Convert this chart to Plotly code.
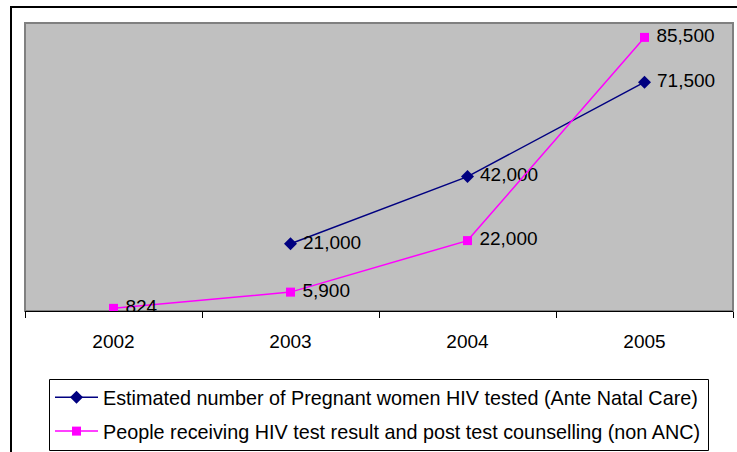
import plotly.graph_objects as go

years = ["2002", "2003", "2004", "2005"]
anc_tested = [None, 21000, 42000, 71500]
non_anc = [824, 5900, 22000, 85500]

name_anc = "Estimated number of Pregnant women HIV tested (Ante Natal Care)"
name_non = "People receiving HIV test result and post test counselling (non ANC)"

W, H = 737, 452
L, R, T, B = 25, 4, 23, 141
pw, ph = W - L - R, H - T - B


# pixel positions of the reference -> paper coordinates
def px(x):
    return (x - L) / pw


def py(y):
    return (H - B - y) / ph


font = dict(family="Liberation Sans, Arial", size=19, color="black")

fig = go.Figure()
fig.add_trace(go.Scatter(
    x=years, y=anc_tested, name=name_anc, legendgroup="a",
    mode="lines+markers+text",
    text=[None if v is None else f" {v:,}" for v in anc_tested],
    textposition="middle right", textfont=font,
    line=dict(color="#000080", width=1.5),
    marker=dict(symbol="diamond", size=10, color="#000080"),
    connectgaps=False,
))
fig.add_trace(go.Scatter(
    x=years, y=non_anc, name=name_non, legendgroup="b",
    mode="lines+markers+text",
    text=[f" {v:,}" for v in non_anc],
    textposition="middle right", textfont=font,
    line=dict(color="#FF00FF", width=1.5),
    marker=dict(symbol="square", size=9, color="#FF00FF"),
))

fig.update_layout(
    width=W, height=H,
    margin=dict(l=L, r=R, t=T, b=B, pad=0, autoexpand=False),
    paper_bgcolor="white", plot_bgcolor="#C0C0C0",
    font=font,
    showlegend=True,
    legend=dict(
        x=px(50), y=py(378), xanchor="left", yanchor="top",
        bgcolor="rgba(0,0,0,0)", borderwidth=0,
        font=dict(family="Liberation Sans, Arial", size=19.8, color="black"),
        tracegroupgap=5, itemwidth=43,
    ),
    xaxis=dict(
        type="category", range=[-0.5, 3.5], tickson="boundaries",
        showline=True, linecolor="black", linewidth=1,
        ticks="outside", ticklen=6, tickcolor="black",
        ticklabelstandoff=13, showgrid=False, zeroline=False,
    ),
    yaxis=dict(
        range=[0, 90000], showticklabels=False, showgrid=False,
        zeroline=False, showline=False, ticks="",
    ),
    shapes=[
        dict(type="rect", xref="paper", yref="paper", x0=0, x1=1, y0=0, y1=1,
             line=dict(color="#808080", width=2), layer="below"),
        # legend box
        dict(type="rect", xref="paper", yref="paper",
             x0=px(49.5), x1=px(708.5), y0=py(379.5), y1=py(450.5),
             line=dict(color="black", width=1), fillcolor="white",
             layer="below"),
        # outer chart frame
        dict(type="rect", xref="paper", yref="paper",
             x0=px(11), x1=px(745), y0=py(7), y1=py(460),
             line=dict(color="black", width=2)),
    ],
)

# drop the default body margin so the figure sits at the page origin
fig.write_html("out.html", config={"displayModeBar": False},
               post_script="document.body.style.margin='0';"
                           "document.body.style.overflow='hidden';")
